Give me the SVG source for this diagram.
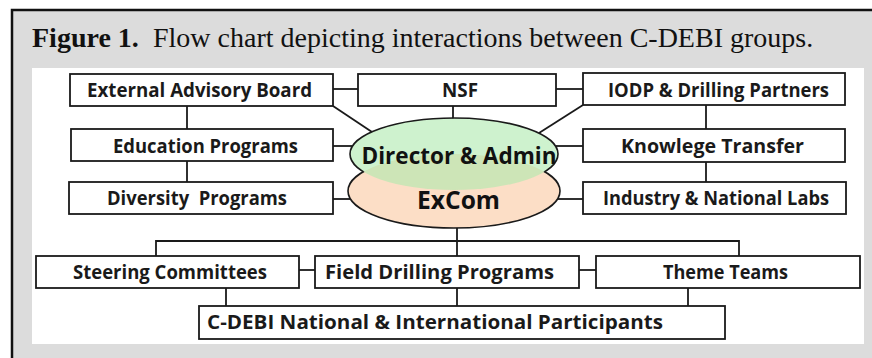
<svg xmlns="http://www.w3.org/2000/svg" width="872" height="358" viewBox="0 0 872 358">
  <style>
    .box { fill: #ffffff; stroke: #1a1a1a; stroke-width: 1.8; }
    .lbl { font-family: "Open Sans", "Liberation Sans", sans-serif; font-weight: 700; font-size: 19.5px; fill: #1a1a1a; text-anchor: middle; }
    .ell { font-family: "Open Sans", "Liberation Sans", sans-serif; font-weight: 700; fill: #111111; text-anchor: middle; }
    .conn line, .conn polyline { stroke: #1a1a1a; stroke-width: 1.8; fill: none; }
    .title { font-family: "Liberation Serif", "Times New Roman", serif; font-size: 28px; fill: #111111; }
  </style>
  <defs>
    <mask id="outsideGreen">
      <rect x="0" y="0" width="872" height="358" fill="#fff"/>
      <ellipse cx="454" cy="154" rx="104" ry="36" fill="#000"/>
    </mask>
    <mask id="outsideOrange">
      <rect x="0" y="0" width="872" height="358" fill="#fff"/>
      <ellipse cx="454" cy="191" rx="106" ry="37" fill="#000"/>
    </mask>
  </defs>

  <!-- page and caption frame -->
  <rect x="0" y="0" width="872" height="358" fill="#ffffff"/>
  <rect x="12" y="10" width="860" height="348" fill="#dcdcdc"/>
  <path d="M12,358 V10 H872" fill="none" stroke="#111" stroke-width="2.5"/>
  <text class="title" x="32" y="46.5"><tspan font-weight="700">Figure 1.</tspan><tspan x="153">Flow chart depicting interactions between C-DEBI groups.</tspan></text>

  <!-- chart panel -->
  <rect x="32" y="68" width="832" height="276" fill="#ffffff"/>

  <!-- connectors -->
  <g id="connectors" class="conn">
    <line x1="333" y1="89" x2="358" y2="89"/>
    <line x1="556" y1="89" x2="583" y2="89"/>
    <line x1="453" y1="106" x2="453" y2="118.5"/>
    <line x1="333" y1="106" x2="372" y2="132"/>
    <line x1="583" y1="105" x2="539" y2="133"/>
    <line x1="187" y1="106" x2="187" y2="129"/>
    <line x1="187" y1="161" x2="187" y2="182"/>
    <line x1="333" y1="146" x2="352.5" y2="146"/>
    <line x1="333" y1="199" x2="350.5" y2="199"/>
    <line x1="706" y1="105" x2="706" y2="129"/>
    <line x1="706" y1="162" x2="706" y2="182"/>
    <line x1="556" y1="146" x2="583" y2="146"/>
    <line x1="557.5" y1="199" x2="583" y2="199"/>
    <line x1="457" y1="227.5" x2="457" y2="256"/>
    <polyline points="156,256 156,241 739,241 739,256"/>
    <line x1="299" y1="270" x2="315" y2="270"/>
    <line x1="579" y1="270" x2="596" y2="270"/>
    <line x1="226" y1="288" x2="226" y2="306"/>
    <line x1="457" y1="288" x2="457" y2="306"/>
    <line x1="688" y1="288" x2="688" y2="306"/>
  </g>

  <!-- central leadership ovals -->
  <g id="excom">
    <ellipse cx="454" cy="191" rx="106" ry="37" fill="#fcdec6"/>
  </g>
  <g id="director">
    <ellipse cx="454" cy="154" rx="104" ry="36" fill="#aeeaae" fill-opacity="0.6"/>
  </g>
  <ellipse cx="454" cy="191" rx="106" ry="37" fill="none" stroke="#1a1a1a" stroke-width="1.6" mask="url(#outsideGreen)"/>
  <ellipse cx="454" cy="154" rx="104" ry="36" fill="none" stroke="#1a1a1a" stroke-width="1.6" mask="url(#outsideOrange)"/>
  <text class="ell" x="459" y="163.5" font-size="23" textLength="195" lengthAdjust="spacingAndGlyphs">Director &amp; Admin</text>
  <text class="ell" x="458.5" y="208.5" font-size="25.5" textLength="83" lengthAdjust="spacingAndGlyphs">ExCom</text>

  <!-- left column -->
  <g id="external-advisory-board">
    <rect class="box" x="70" y="74" width="263" height="32"/>
    <text class="lbl" x="199.5" y="97" textLength="225" lengthAdjust="spacingAndGlyphs">External Advisory Board</text>
  </g>
  <g id="education-programs">
    <rect class="box" x="71" y="129" width="262" height="32"/>
    <text class="lbl" x="205.5" y="152.5" textLength="185" lengthAdjust="spacingAndGlyphs">Education Programs</text>
  </g>
  <g id="diversity-programs">
    <rect class="box" x="69" y="182" width="264" height="32"/>
    <text class="lbl" x="197" y="205" textLength="180" lengthAdjust="spacingAndGlyphs" xml:space="preserve">Diversity  Programs</text>
  </g>

  <!-- top centre -->
  <g id="nsf">
    <rect class="box" x="358" y="74" width="198" height="32"/>
    <text class="lbl" x="460" y="97" textLength="36" lengthAdjust="spacingAndGlyphs">NSF</text>
  </g>

  <!-- right column -->
  <g id="iodp-drilling-partners">
    <rect class="box" x="583" y="73" width="262" height="32"/>
    <text class="lbl" x="718.5" y="97" textLength="221" lengthAdjust="spacingAndGlyphs">IODP &amp; Drilling Partners</text>
  </g>
  <g id="knowledge-transfer">
    <rect class="box" x="583" y="129" width="262" height="33"/>
    <text class="lbl" x="712.5" y="152.5" textLength="183" lengthAdjust="spacingAndGlyphs">Knowlege Transfer</text>
  </g>
  <g id="industry-national-labs">
    <rect class="box" x="583" y="182" width="263" height="32"/>
    <text class="lbl" x="716" y="205" textLength="226" lengthAdjust="spacingAndGlyphs">Industry &amp; National Labs</text>
  </g>

  <!-- lower tier -->
  <g id="steering-committees">
    <rect class="box" x="36" y="256" width="263" height="32"/>
    <text class="lbl" x="170" y="278.5" textLength="194" lengthAdjust="spacingAndGlyphs">Steering Committees</text>
  </g>
  <g id="field-drilling-programs">
    <rect class="box" x="315" y="256" width="264" height="32"/>
    <text class="lbl" x="439.5" y="278.5" textLength="229" lengthAdjust="spacingAndGlyphs">Field Drilling Programs</text>
  </g>
  <g id="theme-teams">
    <rect class="box" x="596" y="256" width="264" height="32"/>
    <text class="lbl" x="725.5" y="278.5" textLength="125" lengthAdjust="spacingAndGlyphs">Theme Teams</text>
  </g>
  <g id="participants">
    <rect class="box" x="199" y="306" width="526" height="33"/>
    <text class="lbl" x="435" y="328.5" textLength="456" lengthAdjust="spacingAndGlyphs">C-DEBI National &amp; International Participants</text>
  </g>
</svg>
